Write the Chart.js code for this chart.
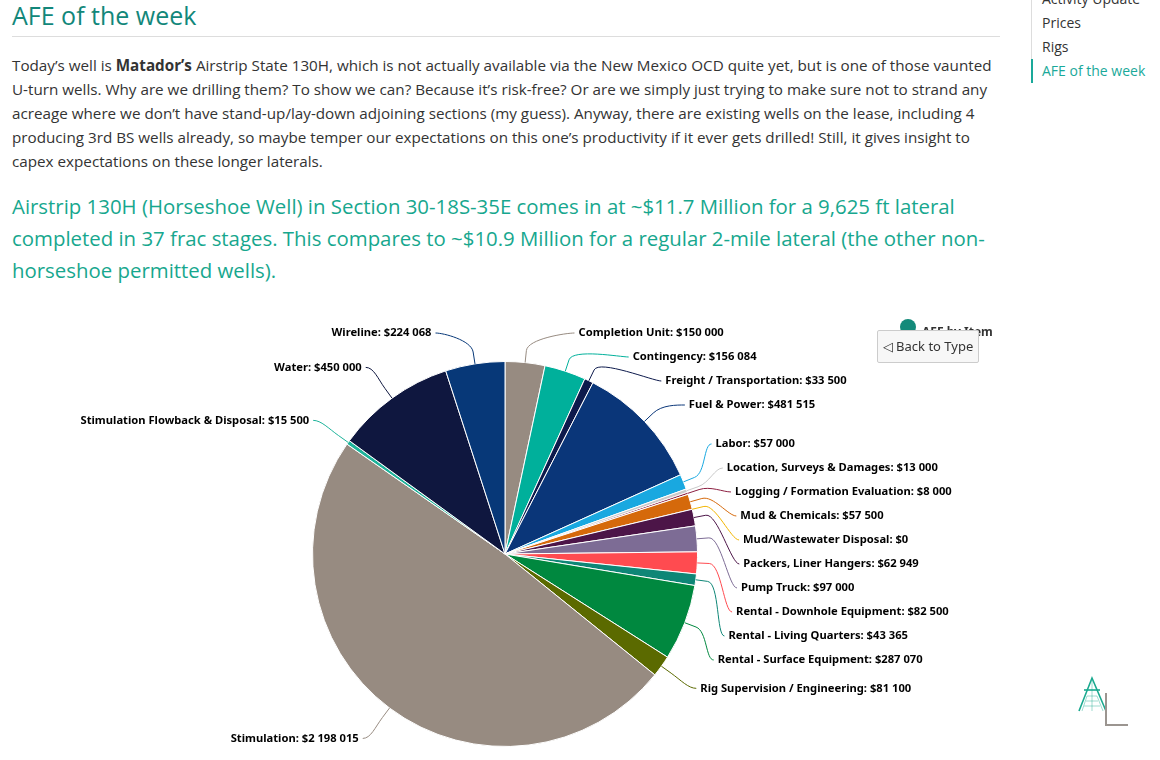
<!DOCTYPE html>
<html lang="en">
<head>
  <meta charset="UTF-8" />
  <title>AFE of the week</title>
  <script src="https://cdn.jsdelivr.net/npm/chart.js"></script>
  <style>
    body {
      margin: 0;
      width: 1160px;
      height: 760px;
      overflow: hidden;
      position: relative;
      background: #ffffff;
      color: #333333;
      font-family: 'Open Sans', 'Noto Sans', sans-serif;
    }

    h1 {
      position: absolute;
      left: 12px;
      top: 0;
      margin: 0;
      font-size: 25px;
      line-height: 30px;
      font-weight: 400;
      color: #12877a;
    }

    .rule {
      position: absolute;
      left: 12px;
      top: 36px;
      width: 988px;
      border-top: 1px solid #dddddd;
    }

    .intro, .lead {
      position: absolute;
      left: 12px;
      margin: 0;
      white-space: nowrap;
    }

    .intro { top: 53px; font-size: 15.23px; line-height: 24px; }
    .lead { top: 190px; font-size: 20.4px; line-height: 32px; color: #17a78e; }

    .side {
      position: absolute;
      left: 1031px;
      top: -13px;
      border-left: 1px solid #dddddd;
      font-size: 14px;
      line-height: 24px;
    }
    .side div { padding-left: 10px; }
    .side .active { color: #1aa99a; border-left: 2px solid #1aa99a; margin-left: -1px; padding-left: 9px; }

    .chart-box {
      position: absolute;
      left: 0;
      top: 300px;
      width: 1010px;
      height: 460px;
    }

    .legend {
      position: absolute;
      left: 900px;
      top: 319px;
      font: bold 12px 'Noto Sans', sans-serif;
      line-height: 16px;
      color: #333;
    }
    .legend span {
      display: inline-block;
      width: 16px; height: 16px;
      border-radius: 50%;
      background: #138a7a;
      vertical-align: top;
      margin-right: 6px;
    }
    .legend em { font-style: normal; position: relative; top: 5px; }

    .back {
      position: absolute;
      left: 877px;
      top: 330px;
      width: 100px;
      height: 31px;
      background: #f7f7f7;
      border: 1px solid #cccccc;
      border-radius: 2px;
      font: 13px 'Noto Sans', sans-serif;
      color: #333;
      line-height: 31px;
      text-align: center;
    }

    .logo { position: absolute; left: 1070px; top: 670px; }
  </style>
</head>
<body>

<h1>AFE of the week</h1>
<div class="rule"></div>

<p class="intro">
  Today’s well is <b>Matador’s</b> Airstrip State 130H, which is not actually available via the New Mexico OCD quite yet, but is one of those vaunted<br>
  U-turn wells. Why are we drilling them? To show we can? Because it’s risk-free? Or are we simply just trying to make sure not to strand any<br>
  acreage where we don’t have stand-up/lay-down adjoining sections (my guess). Anyway, there are existing wells on the lease, including 4<br>
  producing 3rd BS wells already, so maybe temper our expectations on this one’s productivity if it ever gets drilled! Still, it gives insight to<br>
  capex expectations on these longer laterals.
</p>

<p class="lead">
  Airstrip 130H (Horseshoe Well) in Section 30-18S-35E comes in at ~$11.7 Million for a 9,625 ft lateral<br>
  completed in 37 frac stages. This compares to ~$10.9 Million for a regular 2-mile lateral (the other non-<br>
  horseshoe permitted wells).
</p>

<div class="side">
  <div>Activity Update</div>
  <div>Prices</div>
  <div>Rigs</div>
  <div class="active">AFE of the week</div>
</div>

<div class="chart-box">
  <canvas id="afeChart"></canvas>
</div>

<div class="legend"><span></span><em>AFE by Item</em></div>
<div class="back">◁ Back to Type</div>

<svg class="logo" width="70" height="62" viewBox="1070 670 70 62">
  <g stroke="#1aa98f" fill="none">
    <path d="M1079 711 L1092 678 L1106 711" stroke-width="1.6" />
    <path d="M1084 690 L1100 690" stroke-width="1.6" />
    <path d="M1092 680 L1092 711 M1087 696 L1097 696 M1086 701 L1098 701 M1084 706 L1100 706 M1087 696 L1082 711 M1097 696 L1103 711" stroke-width="0.6" opacity="0.7" />
  </g>
  <path d="M1106 693 L1106 725 L1128 725" stroke="#9b9590" stroke-width="2" fill="none" />
</svg>

<script>
  const categories = [
    "Completion Unit", "Contingency", "Freight / Transportation", "Fuel & Power",
    "Labor", "Location, Surveys & Damages", "Logging / Formation Evaluation",
    "Mud & Chemicals", "Mud/Wastewater Disposal", "Packers, Liner Hangers",
    "Pump Truck", "Rental - Downhole Equipment", "Rental - Living Quarters",
    "Rental - Surface Equipment", "Rig Supervision / Engineering", "Stimulation",
    "Stimulation Flowback & Disposal", "Water", "Wireline"
  ];
  const costs = [
    150000, 156084, 33500, 481515,
    57000, 13000, 8000,
    57500, 0, 62949,
    97000, 82500, 43365,
    287070, 81100, 2198015,
    15500, 450000, 224068
  ];
  const sliceColors = [
    "#978b81", "#00b09b", "#0d1a4c", "#0a3679",
    "#19a8e0", "#c9c9c9", "#8c1f41",
    "#d5690b", "#f2b500", "#4c1548",
    "#7d6c95", "#ff4b50", "#0e8676",
    "#00883f", "#5b6a00", "#978b81",
    "#1db39a", "#0f173f", "#073878"
  ];

  const money = v => "$" + String(v).replace(/\B(?=(\d{3})+(?!\d))/g, " ");

  // label boxes pushed apart the way highcharts does it
  function distribute(list, len, size) {
    let boxes = list.map(d => ({ targets: [d.target], size: size, items: [d] }));
    let overlapping = true;
    while (overlapping) {
      boxes.forEach(b => {
        const mid = (Math.min(...b.targets) + Math.max(...b.targets)) / 2;
        b.pos = Math.min(Math.max(mid - b.size / 2, 0), len - b.size);
      });
      overlapping = false;
      for (let i = boxes.length - 1; i > 0; i--) {
        const prev = boxes[i - 1];
        if (prev.pos + prev.size > boxes[i].pos) {
          prev.size += boxes[i].size;
          prev.targets = prev.targets.concat(boxes[i].targets);
          prev.items = prev.items.concat(boxes[i].items);
          boxes.splice(i, 1);
          overlapping = true;
        }
      }
    }
    boxes.forEach(b => b.items.forEach((d, k) => { d.y = b.pos + size * k + size / 2; }));
  }

  const labelPlugin = {
    id: 'pieLabels',
    afterDatasetsDraw(chart) {
      const ctx = chart.ctx;
      const area = chart.chartArea;
      const meta = chart.getDatasetMeta(0);
      const rowH = 24, dist = 38, pad = 8;
      const top = area.top - 40;

      const items = meta.data.map((arc, i) => {
        const p = arc.getProps(['x', 'y', 'startAngle', 'endAngle', 'outerRadius'], true);
        const a = (p.startAngle + p.endAngle) / 2;
        const R = p.outerRadius + dist;
        return {
          i, a, cx: p.x, cy: p.y, r: p.outerRadius, R,
          right: Math.cos(a) >= 0,
          target: p.y + R * Math.sin(a) - top
        };
      });

      [true, false].forEach(side => {
        const list = items.filter(d => d.right === side).sort((m, n) => m.target - n.target);
        distribute(list, chart.height - top, rowH);
      });

      ctx.save();
      ctx.font = "bold 11.2px 'Noto Sans', sans-serif";
      ctx.textBaseline = 'middle';
      items.forEach(d => {
        const y = d.y + top;
        const dy = y - d.cy;
        const dx = Math.sqrt(Math.max(0, d.R * d.R - dy * dy));
        const s = d.right ? 1 : -1;
        const tx = d.cx + s * (dx + pad);
        const ax = tx - s * 4;
        const ex = d.cx + d.r * Math.cos(d.a), ey = d.cy + d.r * Math.sin(d.a);
        const bx = d.cx + (d.r + 12) * Math.cos(d.a), by = d.cy + (d.r + 12) * Math.sin(d.a);

        ctx.strokeStyle = sliceColors[d.i];
        ctx.lineWidth = 1;
        ctx.beginPath();
        ctx.moveTo(ax, y);
        ctx.bezierCurveTo(ax - s * 8, y, 2 * bx - ex, 2 * by - ey, bx, by);
        ctx.lineTo(ex, ey);
        ctx.stroke();

        const text = categories[d.i] + ": " + money(costs[d.i]);
        ctx.textAlign = d.right ? 'left' : 'right';
        ctx.lineWidth = 2;
        ctx.strokeStyle = '#ffffff';
        ctx.strokeText(text, tx, y);
        ctx.fillStyle = '#000000';
        ctx.fillText(text, tx, y);
      });
      ctx.restore();
    }
  };

  new Chart(document.getElementById('afeChart'), {
    type: 'pie',
    data: {
      labels: categories,
      datasets: [{
        data: costs,
        backgroundColor: sliceColors,
        borderColor: '#ffffff',
        borderWidth: 1
      }]
    },
    options: {
      responsive: true,
      maintainAspectRatio: false,
      animation: false,
      layout: { padding: { top: 61, bottom: 13, left: 312, right: 312 } },
      plugins: {
        legend: { display: false },
        tooltip: { enabled: false }
      }
    },
    plugins: [labelPlugin]
  });
</script>

</body>
</html>
